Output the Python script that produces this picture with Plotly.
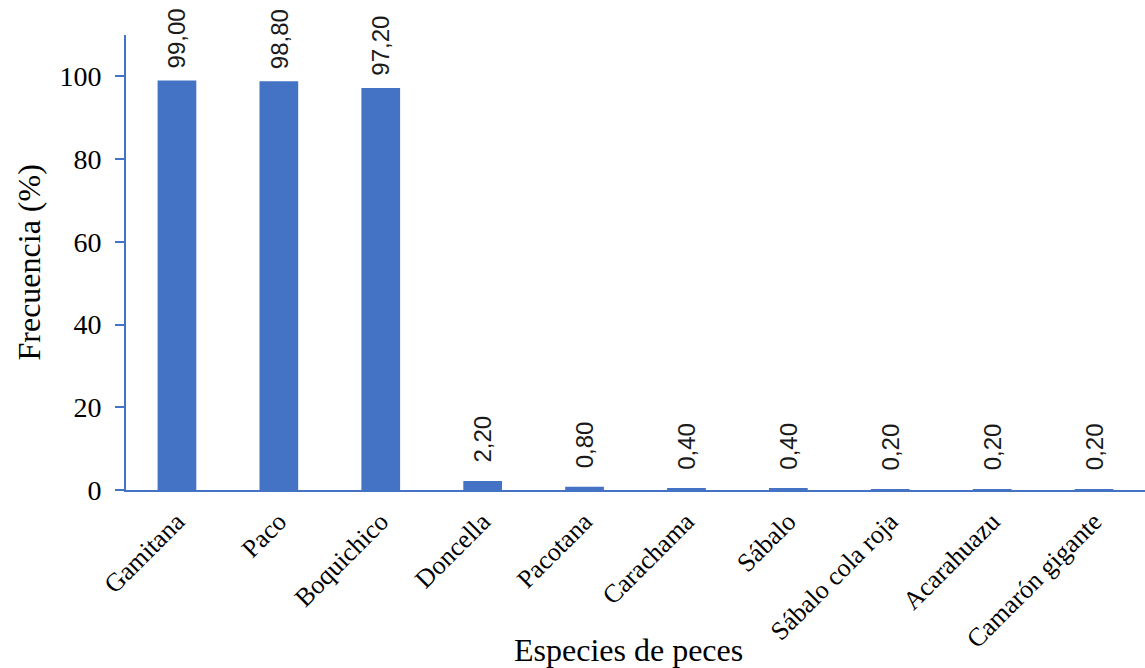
import plotly.graph_objects as go

# Frecuencia de especies de peces (%)
especies = [
    "Gamitana", "Paco", "Boquichico", "Doncella", "Pacotana",
    "Carachama", "Sábalo", "Sábalo cola roja", "Acarahuazu", "Camarón gigante",
]
frecuencia = [99.00, 98.80, 97.20, 2.20, 0.80, 0.40, 0.40, 0.20, 0.20, 0.20]
y_ticks = [0, 20, 40, 60, 80, 100]

azul = "#4472C4"
serif = "Liberation Serif, Times New Roman, serif"
sans = "Liberation Sans, Arial, sans-serif"

fig = go.Figure(
    go.Bar(
        x=especies,
        y=frecuencia,
        marker=dict(color=azul, line=dict(width=0)),
        hoverinfo="x+y",
    )
)

# Etiquetas de valor, giradas y con coma decimal
for esp, val in zip(especies, frecuencia):
    fig.add_annotation(
        x=esp, y=val, xref="x", yref="y",
        text=f"{val:.2f}".replace(".", ","),
        textangle=-90, showarrow=False,
        xanchor="center", yanchor="middle", yshift=42,
        font=dict(family=sans, size=24, color="#1a1a1a"),
    )

# Títulos de los ejes
fig.add_annotation(
    text="Frecuencia (%)", xref="paper", yref="paper", x=0, y=0.5,
    xanchor="center", yanchor="middle", xshift=-98, textangle=-90,
    showarrow=False, font=dict(family=serif, size=32, color="#000000"),
)
fig.add_annotation(
    text="Especies de peces", xref="paper", yref="paper", x=0.4936, y=0,
    xanchor="center", yanchor="middle", yshift=-160,
    showarrow=False, font=dict(family=serif, size=32, color="#000000"),
)

fig.update_layout(
    width=1145, height=668,
    margin=dict(l=126, r=0, t=35, b=178),
    paper_bgcolor="white", plot_bgcolor="white",
    bargap=0.62, showlegend=False,
)
fig.update_xaxes(
    showline=True, linecolor=azul, linewidth=2,
    ticks="", tickangle=-45, showgrid=False, ticklabelstandoff=4,
    tickfont=dict(family=serif, size=26, color="#000000"),
)
fig.update_yaxes(
    range=[0, 110], tickvals=y_ticks,
    showline=True, linecolor=azul, linewidth=2,
    ticks="outside", ticklen=9, tickwidth=2, tickcolor=azul,
    showgrid=False, zeroline=False, ticklabelstandoff=8,
    tickfont=dict(family=serif, size=28, color="#000000"),
)

fig.write_html("out.html")
